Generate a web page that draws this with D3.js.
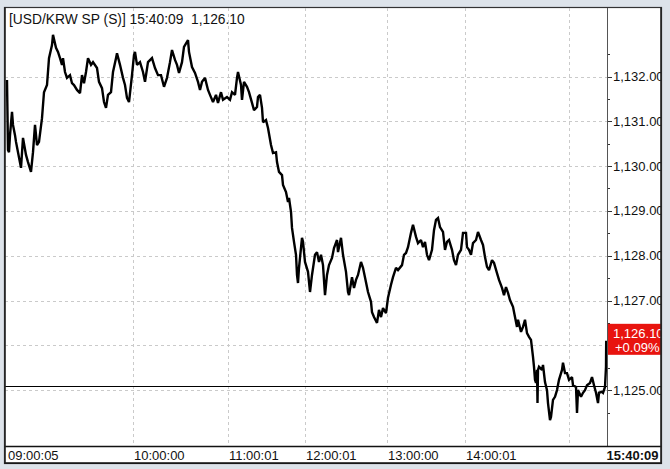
<!DOCTYPE html>
<html><head><meta charset="utf-8">
<script src="https://cdn.jsdelivr.net/npm/d3@7"></script>
<style>
html,body{margin:0;padding:0;background:#dde3ea;}
svg{display:block;}
text{font-family:"Liberation Sans",Arial,sans-serif;}
</style></head>
<body>
<svg id="c" width="670" height="469"></svg>
<script>
// ---- data ----
const titleText = "[USD/KRW SP (S)] 15:40:09\u00a0\u00a01,126.10";
const lastPrice = 1126.10;
const changeText = "+0.09%";
const prevClose = 1125.10;
const priceTicks = [1125, 1127, 1128, 1129, 1130, 1131, 1132];
const gridPrices = [1125, 1126, 1127, 1128, 1129, 1130, 1131, 1132];
const minorPrices = [1124.5, 1125.5, 1126.5, 1127.5, 1128.5, 1129.5, 1130.5, 1131.5, 1132.5];
const timeLabels = ["09:00:05", "10:00:00", "11:00:01", "12:00:01", "13:00:00", "14:00:01", ""];
const timeLabelTick = [0, 126, 221, 298, 380, 458, 562];
const lastTime = "15:40:09";
// tick sequence number and price of each tick sample
const tickNo = [0,1,2,3,5,6,8,9,11,14,16,19,21,24,26,28,30,32,35,37,40,42,45,46,49,51,53,55,56,58,60,63,65,67,70,73,75,77,79,81,84,86,90,92,95,97,99,101,104,106,109,110,113,116,118,120,122,125,127,128,130,133,136,138,141,145,148,151,154,157,160,163,165,168,170,172,175,177,181,182,185,188,191,193,195,198,201,203,206,209,211,214,216,220,223,225,228,230,231,234,235,237,240,242,245,247,250,251,253,255,256,259,261,264,266,269,270,272,275,276,279,281,282,284,285,287,289,290,291,292,295,296,298,301,303,305,308,310,312,314,316,318,320,322,325,327,330,331,334,336,339,341,342,345,347,349,351,354,356,359,361,364,365,367,370,372,374,376,379,381,384,386,389,391,395,397,399,401,404,406,409,411,414,416,418,420,422,425,427,429,431,433,436,438,440,442,445,447,449,451,454,456,459,460,462,464,466,469,471,474,476,478,480,482,485,487,490,492,495,497,499,501,503,506,508,510,511,514,516,518,520,522,524,526,527,528,529,530,530.5,531,532,535,536,538,540,541,543,544,546,548,550,552,555,556,558,560,562,565,566,569,570,571,574,576,578,580,583,585,587,589,591,592,595,596,598,599,599.2];
const price = [1131.92,1130.36,1130.31,1130.69,1131.21,1130.92,1130.69,1130.54,1130.31,1129.96,1130.63,1130.25,1130.09,1129.87,1130.31,1130.92,1130.47,1130.54,1131.07,1131.65,1131.81,1132.41,1132.70,1132.93,1132.64,1132.55,1132.41,1132.26,1132.41,1132.10,1131.97,1132.03,1131.85,1131.81,1131.70,1131.63,1132.03,1131.85,1132.10,1132.41,1132.26,1132.32,1132.19,1131.88,1131.74,1131.43,1131.30,1131.59,1131.65,1132.10,1132.41,1132.52,1132.26,1131.97,1131.81,1131.52,1131.43,1132.03,1132.48,1132.55,1132.26,1132.32,1132.10,1131.88,1132.32,1132.41,1132.19,1132.03,1132.03,1131.77,1131.97,1132.32,1132.59,1132.37,1132.26,1132.08,1132.32,1132.66,1132.81,1132.55,1132.21,1132.08,1131.88,1131.70,1131.88,1131.97,1131.70,1131.59,1131.43,1131.59,1131.41,1131.65,1131.48,1131.54,1131.48,1131.65,1131.59,1131.97,1132.10,1131.81,1131.48,1131.88,1131.77,1131.65,1131.41,1131.25,1131.32,1131.54,1131.59,1131.30,1130.98,1131.03,1130.85,1130.47,1130.29,1130.31,1130.09,1129.87,1129.80,1129.58,1129.42,1129.20,1129.29,1128.98,1128.62,1128.31,1128.02,1127.57,1127.39,1127.73,1128.40,1128.31,1127.86,1127.64,1127.19,1127.57,1128.02,1128.08,1127.86,1128.02,1127.79,1127.12,1127.57,1127.79,1127.95,1128.17,1128.35,1128.08,1128.40,1128.02,1127.64,1127.19,1127.12,1127.52,1127.28,1127.46,1127.57,1127.86,1127.73,1127.41,1127.19,1126.97,1126.74,1126.63,1126.50,1126.79,1126.63,1126.83,1126.72,1127.06,1127.35,1127.52,1127.73,1127.68,1127.79,1128.02,1128.06,1128.19,1128.51,1128.69,1128.42,1128.28,1128.35,1128.19,1128.31,1128.02,1127.90,1128.13,1128.57,1128.80,1128.84,1128.64,1128.53,1128.13,1128.31,1128.35,1128.13,1127.90,1127.79,1128.02,1128.13,1128.51,1128.51,1128.19,1128.13,1128.02,1128.28,1128.35,1128.53,1128.35,1128.24,1127.97,1127.75,1127.68,1127.90,1127.84,1127.61,1127.46,1127.28,1127.12,1127.30,1127.17,1127.01,1126.86,1126.63,1126.41,1126.57,1126.30,1126.41,1126.57,1126.27,1126.19,1126.12,1125.74,1125.52,1125.23,1125.16,1125.45,1124.71,1125.45,1125.52,1125.45,1125.56,1125.18,1125.00,1124.71,1124.33,1124.40,1124.78,1124.85,1125.00,1125.23,1125.45,1125.61,1125.38,1125.38,1125.23,1125.29,1125.11,1125.07,1124.49,1125.00,1124.85,1124.94,1125.00,1125.11,1125.16,1125.29,1125.11,1124.94,1124.71,1124.94,1124.96,1124.94,1125.07,1125.52,1126.10];

// ---- layout ----
const W = 670, H = 469;
const frame = {l: 4.5, t: 7.5, r: 661.5, b: 463.5};
const plot = {l: 5, r: 607, t: 8, b: 446};
const svg = d3.select("#c");

const x = d3.scaleLinear().domain([0, 600]).range([7, 607]);
const y = d3.scaleLinear().domain([1124, 1133]).range([434.9, 31.7]);

svg.append("rect").attr("x", frame.l).attr("y", frame.t)
  .attr("width", frame.r - frame.l).attr("height", frame.b - frame.t)
  .attr("fill", "#fff").attr("stroke", "#333").attr("stroke-width", 1.2);

const defs = svg.append("defs");
defs.append("clipPath").attr("id", "plotClip").append("rect")
  .attr("x", plot.l).attr("y", plot.t).attr("width", plot.r - plot.l).attr("height", plot.b - plot.t);
defs.append("clipPath").attr("id", "axClip").append("rect")
  .attr("x", plot.r).attr("y", plot.t).attr("width", frame.r - plot.r - 0.5).attr("height", plot.b - plot.t);

// horizontal grid
svg.append("g").selectAll("line").data(gridPrices).join("line")
  .attr("x1", plot.l).attr("x2", plot.r)
  .attr("y1", d => Math.round(y(d)) + 0.5).attr("y2", d => Math.round(y(d)) + 0.5)
  .attr("stroke", "#cacaca").attr("stroke-dasharray", "3,3");
// vertical grid
svg.append("g").selectAll("line").data(timeLabelTick.slice(1)).join("line")
  .attr("x1", d => Math.round(x(d)) + 0.5).attr("x2", d => Math.round(x(d)) + 0.5)
  .attr("y1", plot.t).attr("y2", plot.b)
  .attr("stroke", "#cacaca").attr("stroke-dasharray", "3,3");

// previous close line
svg.append("line").attr("x1", plot.l).attr("x2", plot.r)
  .attr("y1", Math.round(y(prevClose)) + 0.5).attr("y2", Math.round(y(prevClose)) + 0.5)
  .attr("stroke", "#000").attr("stroke-width", 1);

// price line
const pts = tickNo.map((t, i) => [t, price[i]]);
const line = d3.line().x(d => x(d[0])).y(d => y(d[1]));
svg.append("path").datum(pts).attr("d", line)
  .attr("clip-path", "url(#plotClip)")
  .attr("fill", "none").attr("stroke", "#000").attr("stroke-width", 2.4)
  .attr("stroke-linejoin", "miter").attr("stroke-miterlimit", 2);

// title
svg.append("text").attr("x", 9).attr("y", 24).attr("font-size", 13.8).attr("fill", "#111")
  .text(titleText);

// right axis
const ax = svg.append("g").attr("clip-path", "url(#axClip)");
ax.selectAll("line.major").data(gridPrices).join("line").attr("class", "major")
  .attr("x1", plot.r).attr("x2", plot.r + 5)
  .attr("y1", d => Math.round(y(d)) + 0.5).attr("y2", d => Math.round(y(d)) + 0.5)
  .attr("stroke", "#333");
ax.selectAll("line.minor").data(minorPrices).join("line").attr("class", "minor")
  .attr("x1", plot.r).attr("x2", plot.r + 3)
  .attr("y1", d => Math.round(y(d)) + 0.5).attr("y2", d => Math.round(y(d)) + 0.5)
  .attr("stroke", "#333");
const fmt = d3.format(",.2f");
ax.selectAll("text").data(priceTicks).join("text")
  .attr("x", plot.r + 6).attr("y", d => y(d) + 4.5)
  .attr("font-size", 13).attr("fill", "#111").text(d => fmt(d));

// last price label
const lab = svg.append("g").attr("clip-path", "url(#axClip)");
lab.append("rect").attr("x", plot.r).attr("y", y(lastPrice) - 17)
  .attr("width", frame.r - plot.r).attr("height", 31).attr("fill", "#e8140f");
lab.append("text").attr("x", plot.r + 6).attr("y", y(lastPrice) - 3)
  .attr("font-size", 13).attr("fill", "#fff").text(fmt(lastPrice));
lab.append("text").attr("x", plot.r + 8).attr("y", y(lastPrice) + 11)
  .attr("font-size", 13).attr("fill", "#fff").text(changeText);

// right axis line
svg.append("line").attr("x1", plot.r + 0.5).attr("x2", plot.r + 0.5)
  .attr("y1", plot.t).attr("y2", plot.b).attr("stroke", "#555").attr("stroke-width", 1);

// bottom time strip and frame
svg.append("line").attr("x1", frame.l).attr("x2", frame.r)
  .attr("y1", plot.b + 0.5).attr("y2", plot.b + 0.5).attr("stroke", "#111").attr("stroke-width", 1.6);
svg.append("line").attr("x1", frame.l).attr("x2", frame.r)
  .attr("y1", frame.b - 0.5).attr("y2", frame.b - 0.5).attr("stroke", "#111").attr("stroke-width", 1.6);
svg.append("line").attr("x1", frame.l + 0.5).attr("x2", frame.l + 0.5)
  .attr("y1", frame.t).attr("y2", frame.b).attr("stroke", "#222").attr("stroke-width", 1.6);
svg.append("line").attr("x1", frame.r - 0.5).attr("x2", frame.r - 0.5)
  .attr("y1", frame.t).attr("y2", frame.b).attr("stroke", "#222").attr("stroke-width", 1.6);

svg.append("g").selectAll("text").data(timeLabels.map((t, i) => ({t, p: timeLabelTick[i]}))).join("text")
  .attr("x", d => x(d.p) + 1).attr("y", 460).attr("font-size", 13).attr("fill", "#111")
  .text(d => d.t);
svg.append("text").attr("x", frame.r - 3).attr("y", 460).attr("text-anchor", "end")
  .attr("font-size", 13).attr("font-weight", "bold").attr("fill", "#111").text(lastTime);
</script>
</body></html>
